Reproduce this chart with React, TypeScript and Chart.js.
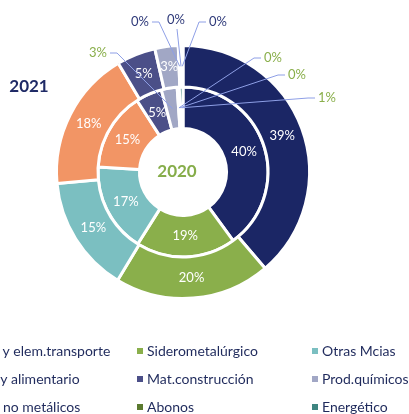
import { useEffect, useRef } from "react";
import { Chart, registerables } from "chart.js";

Chart.register(...registerables);

const categories = [
  "Veh. y elem.transporte",
  "Siderometalúrgico",
  "Otras Mcias",
  "Agr. y alimentario",
  "Mat.construcción",
  "Prod.químicos",
  "Min. no metálicos",
  "Abonos",
  "Energético",
];
const seriesNames = ["2021", "2020"];
const values2021 = [39, 20, 15, 18, 5, 3, 0.2, 0.2, 0.2];
const values2020 = [40, 19, 17, 15, 5, 3, 0.2, 0.2, 0.7];

const colors = [
  "#1b2665",
  "#8aaf4b",
  "#7bbfc1",
  "#f29565",
  "#4b4f88",
  "#a1a7c5",
  "#e8c9a8",
  "#5b7a2f",
  "#3e8580",
];

// external label placement (offset from the doughnut centre), null = inside label
const externalLabels: (number[] | null)[][] = [
  [null, null, null, null, null, null, [-43, -150], [-7, -152], [35, -150]],
  [null, null, null, null, null, [-85, -119], [90, -114], [114, -97], [144, -74]],
];
const externalColors = ["#2f3a7a", "#8aaf4b"];
const legendTextX = [-28, 147, 322];
const legendRowY = [351, 379, 407];

const ringLabels = {
  id: "ringLabels",
  afterDatasetsDraw(chart: any) {
    const ctx = chart.ctx as CanvasRenderingContext2D;
    ctx.save();
    let cx = 0;
    let cy = 0;
    chart.data.datasets.forEach((ds: any, di: number) => {
      const meta = chart.getDatasetMeta(di);
      const total = ds.data.reduce((a: number, b: number) => a + b, 0);
      meta.data.forEach((arc: any, i: number) => {
        cx = arc.x;
        cy = arc.y;
        const text = Math.round((ds.data[i] / total) * 100) + "%";
        const p = arc.tooltipPosition();
        const ext = externalLabels[di][i];
        ctx.font = "13px Lato";
        ctx.textAlign = "center";
        ctx.textBaseline = "middle";
        if (!ext) {
          ctx.fillStyle = "#ffffff";
          ctx.fillText(text, p.x, p.y);
          return;
        }
        const lx = arc.x + ext[0];
        const ly = arc.y + ext[1];
        const w = ctx.measureText(text).width;
        ctx.strokeStyle = "#8e9fe6";
        ctx.lineWidth = 1;
        ctx.beginPath();
        if (Math.abs(lx - p.x) < 12) {
          ctx.moveTo(lx + 1, ly + 9);
          ctx.lineTo(p.x, p.y);
        } else if (lx < p.x) {
          const sx = lx + w / 2 + 3;
          ctx.moveTo(sx, ly);
          ctx.lineTo(sx + 7, ly);
          ctx.lineTo(p.x, p.y);
        } else {
          const sx = lx - w / 2 - 3;
          ctx.moveTo(sx, ly);
          ctx.lineTo(sx - 7, ly);
          ctx.lineTo(p.x, p.y);
        }
        ctx.stroke();
        ctx.fillStyle = externalColors[di];
        ctx.fillText(text, lx, ly);
      });
    });

    // series titles
    ctx.font = "bold 17px Lato";
    ctx.textAlign = "center";
    ctx.textBaseline = "middle";
    ctx.fillStyle = "#1f2a66";
    ctx.fillText(seriesNames[0], cx - 154, cy - 85);
    ctx.fillStyle = "#86ad4a";
    ctx.fillText(seriesNames[1], cx - 6, cy);

    // legend
    ctx.font = "14px Lato";
    ctx.textAlign = "left";
    categories.forEach((name, i) => {
      const col = i % 3;
      const row = Math.floor(i / 3);
      const tx = legendTextX[col];
      const ty = legendRowY[row];
      ctx.fillStyle = colors[i];
      ctx.fillRect(tx - 10, ty - 3, 6, 6);
      ctx.fillStyle = "#1f2a5c";
      ctx.fillText(name, tx, ty);
    });
    ctx.restore();
  },
};

export default function App() {
  const ref = useRef<HTMLCanvasElement | null>(null);
  useEffect(() => {
    if (!ref.current) return;
    const chart = new Chart(ref.current, {
      type: "doughnut",
      data: {
        labels: categories,
        datasets: [
          { label: seriesNames[0], data: values2021, backgroundColor: colors, borderColor: "#ffffff", borderWidth: 3 },
          { label: seriesNames[1], data: values2020, backgroundColor: colors, borderColor: "#ffffff", borderWidth: 3 },
        ],
      },
      options: {
        responsive: false,
        animation: false,
        cutout: "34.4%",
        layout: { padding: { top: 44, bottom: 114, left: 55, right: 98 } },
        plugins: { legend: { display: false }, tooltip: { enabled: false } },
      },
      plugins: [ringLabels],
    });
    return () => chart.destroy();
  }, []);
  return (
    <div style={{ position: "absolute", left: 0, top: 0, width: 409, height: 414, background: "#fff", overflow: "hidden" }}>
      <canvas ref={ref} width={409} height={414} style={{ display: "block" }} />
    </div>
  );
}
